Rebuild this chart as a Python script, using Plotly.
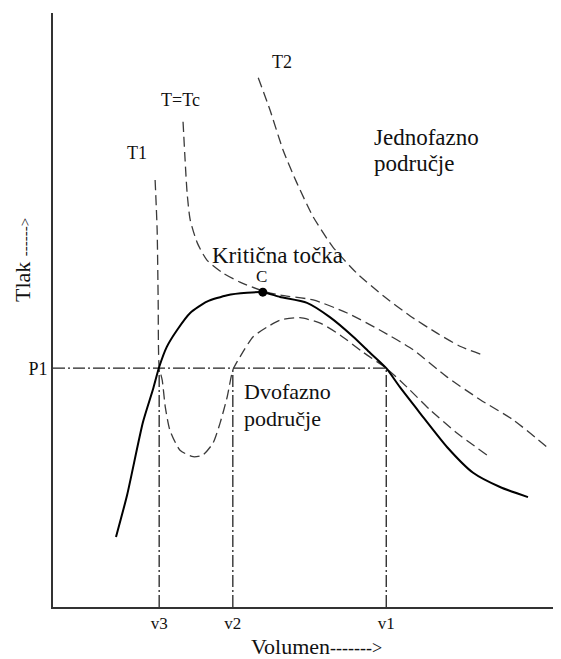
import plotly.graph_objects as go

# ---- data (volume V, pressure P in arbitrary units) ----
tick_v_labels = ["v3", "v2", "v1"]
tick_v_values = [2.09, 3.54, 6.56]
tick_p_labels = ["P1"]
tick_p_values = [4.02]

# saturation dome (solid)
dome_v = [1.24, 1.46, 1.77, 1.97, 2.09, 2.24, 2.44, 2.70, 3.03, 3.43, 3.82, 4.13, 4.47, 5.00, 5.45,
          5.91, 6.24, 6.56, 6.83, 7.22, 7.76, 8.27, 8.80, 9.35]
dome_p = [1.18, 1.89, 3.11, 3.67, 4.04, 4.38, 4.66, 4.95, 5.14, 5.25, 5.29, 5.30, 5.22, 5.12, 4.88,
          4.55, 4.28, 4.02, 3.70, 3.27, 2.69, 2.26, 2.02, 1.85]

# critical isotherm T = Tc
tc_v = [2.56, 2.60, 2.64, 2.70, 2.84, 3.03, 3.35, 3.68, 4.13, 4.47, 5.12, 5.79, 6.44, 7.09, 7.76, 8.41, 9.06, 9.74]
tc_p = [8.17, 7.53, 6.97, 6.52, 6.13, 5.84, 5.62, 5.47, 5.32, 5.25, 5.17, 4.95, 4.66, 4.33, 3.87, 3.49, 3.15, 2.68]

# isotherm T2 (above critical)
t2_v = [4.04, 4.27, 4.53, 4.80, 5.12, 5.51, 5.98, 6.50, 7.03, 7.56, 8.01, 8.47]
t2_p = [8.91, 8.37, 7.69, 7.14, 6.57, 6.06, 5.62, 5.24, 4.90, 4.61, 4.39, 4.24]

# isotherm T1 (below critical)
t1_v = [2.01, 2.05, 2.07, 2.09, 2.15, 2.21, 2.30, 2.50, 2.76, 2.95, 3.15, 3.29, 3.43, 3.54, 3.68,
        3.94, 4.21, 4.47, 4.86, 5.26, 5.65, 6.10, 6.56, 6.97, 7.42, 7.95, 8.54]
t1_p = [7.19, 6.35, 5.17, 4.04, 3.82, 3.37, 2.98, 2.64, 2.53, 2.56, 2.76, 3.10, 3.54, 3.99, 4.21,
        4.55, 4.71, 4.83, 4.87, 4.78, 4.58, 4.29, 4.02, 3.70, 3.32, 2.93, 2.56]

# critical point
crit_v = [4.13]
crit_p = [5.30]

v3, v2, v1 = tick_v_values
p1 = tick_p_values[0]

FONT = "Liberation Serif, Times New Roman, Times, serif"
INK = "#111111"

fig = go.Figure()

iso_line = dict(color="#3a3a3a", width=1.3, dash="10px,5px")
dd_line = dict(color="#222222", width=1.3, dash="12px,3px,2px,3px")

# dash-dot construction lines
fig.add_trace(go.Scatter(x=[0, v1], y=[p1, p1], mode="lines", line=dd_line))
for vv in tick_v_values:
    fig.add_trace(go.Scatter(x=[vv, vv], y=[0, p1], mode="lines", line=dd_line))

# isotherms
for xs, ys in ((t1_v, t1_p), (tc_v, tc_p), (t2_v, t2_p)):
    fig.add_trace(go.Scatter(x=xs, y=ys, mode="lines",
                             line=dict(iso_line, shape="spline", smoothing=0.6)))

# saturation dome
fig.add_trace(go.Scatter(x=dome_v, y=dome_p, mode="lines",
                         line=dict(color="#000000", width=2, shape="spline", smoothing=0.6)))

# critical point
fig.add_trace(go.Scatter(x=crit_v, y=crit_p, mode="markers",
                         marker=dict(color="#000000", size=9)))

ann = [
    dict(x=4.51, y=9.18, text="T2", xanchor="center", size=18),
    dict(x=2.50, y=8.54, text="T=Tc", xanchor="center", size=18),
    dict(x=1.65, y=7.64, text="T1", xanchor="center", size=18),
    dict(x=6.28, y=7.91, text="Jednofazno", xanchor="left", size=23),
    dict(x=6.28, y=7.47, text="područje", xanchor="left", size=23),
    dict(x=3.09, y=5.91, text="Kritična točka", xanchor="left", size=23),
    dict(x=4.11, y=5.56, text="C", xanchor="center", size=17),
    dict(x=3.72, y=3.62, text="Dvofazno", xanchor="left", size=22),
    dict(x=3.72, y=3.18, text="područje", xanchor="left", size=22),
]
for a in ann:
    fig.add_annotation(xref="x", yref="y", x=a["x"], y=a["y"], text=a["text"],
                       xanchor=a["xanchor"], yanchor="middle", showarrow=False,
                       font=dict(family=FONT, size=a["size"], color=INK))

# axis titles (paper coords relative to plot area)
fig.add_annotation(xref="paper", yref="paper", x=(316 - 53) / 508, y=-(646 - 607) / 594,
                   text="Volumen<span style='font-size:18px'>-------&gt;</span>",
                   showarrow=False, xanchor="center", yanchor="middle",
                   font=dict(family=FONT, size=22, color=INK))
fig.add_annotation(xref="paper", yref="paper", x=-(53 - 22) / 508, y=(607 - 260) / 594,
                   text="Tlak <span style='font-size:15px'>------&gt;</span>", textangle=-90,
                   showarrow=False, xanchor="center", yanchor="middle",
                   font=dict(family=FONT, size=22, color=INK))

# the page body has an 8px margin, so the figure is sized to fit inside the window
fig.update_layout(
    width=553, height=651,
    margin=dict(l=45, r=0, t=5, b=52),
    paper_bgcolor="white", plot_bgcolor="white",
    showlegend=False,
    font=dict(family=FONT, color=INK),
)
fig.update_xaxes(range=[0, 10], showgrid=False, zeroline=False, showline=True,
                 linecolor="#333333", linewidth=2,
                 tickmode="array", tickvals=tick_v_values, ticktext=tick_v_labels,
                 ticks="", tickfont=dict(family=FONT, size=17, color=INK))
fig.update_yaxes(range=[0, 10], showgrid=False, zeroline=False, showline=True,
                 linecolor="#333333", linewidth=2,
                 tickmode="array", tickvals=tick_p_values, ticktext=tick_p_labels,
                 ticks="", tickfont=dict(family=FONT, size=18, color=INK))

fig.write_html("out.html")
